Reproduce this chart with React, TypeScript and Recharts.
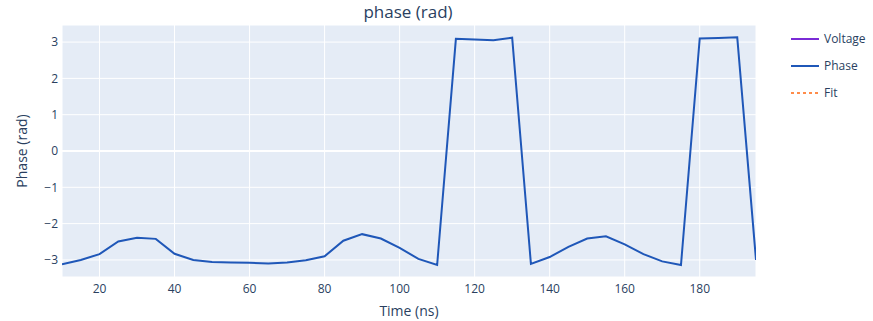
import {
  LineChart,
  Line,
  XAxis,
  YAxis,
  CartesianGrid,
  ReferenceLine
} from "recharts";

const times = [
  10, 15, 20, 25, 30, 35, 40, 45, 50, 55, 60, 65, 70, 75, 80, 85, 90, 95, 100,
  105, 110, 115, 120, 125, 130, 135, 140, 145, 150, 155, 160, 165, 170, 175,
  180, 185, 190, 195
];

const phase = [
  -3.12, -3.0, -2.84, -2.49, -2.39, -2.42, -2.83, -3.0, -3.06, -3.07, -3.08,
  -3.1, -3.07, -3.01, -2.9, -2.47, -2.29, -2.41, -2.67, -2.97, -3.14, 3.09,
  3.07, 3.05, 3.12, -3.11, -2.92, -2.64, -2.41, -2.35, -2.57, -2.84, -3.04,
  -3.14, 3.1, 3.11, 3.13, -3.0
];

const xTicks = [20, 40, 60, 80, 100, 120, 140, 160, 180];
const yTicks = [-3, -2, -1, 0, 1, 2, 3];

const legendItems = [
  { name: "Voltage", color: "#7a2bd6", dash: "" },
  { name: "Phase", color: "#1f57b8", dash: "" },
  { name: "Fit", color: "#ff8c4a", dash: "3 3" }
];

const data = times.map((t, i) => ({ t, phase: phase[i] }));

const font = "'Open Sans', sans-serif";
const textColor = "#2a3f5f";

const fmt = (v: number) => String(v).replace("-", "\u2212");

function LegendBox() {
  return (
    <div
      style={{
        position: "absolute",
        left: 790,
        top: 25,
        fontFamily: font,
        fontSize: 12,
        color: textColor
      }}
    >
      {legendItems.map((it) => (
        <div
          key={it.name}
          style={{ display: "flex", alignItems: "center", height: 27 }}
        >
          <svg width={34} height={10}>
            <line
              x1={1}
              x2={29}
              y1={5}
              y2={5}
              stroke={it.color}
              strokeWidth={2}
              strokeDasharray={it.dash}
            />
          </svg>
          <span>{it.name}</span>
        </div>
      ))}
    </div>
  );
}

export default function App() {
  return (
    <div
      style={{
        position: "absolute",
        left: 0,
        top: 0,
        width: 873,
        height: 321,
        background: "#fff"
      }}
    >
      <div
        style={{
          position: "absolute",
          left: 0,
          width: 816,
          top: 0,
          textAlign: "center",
          fontFamily: font,
          fontSize: 17,
          color: textColor
        }}
      >
        phase (rad)
      </div>
      <LineChart
        width={873}
        height={321}
        data={data}
        margin={{ top: 25, right: 117, bottom: 0, left: 0 }}
      >
        <CartesianGrid fill="#e5ecf6" stroke="#ffffff" strokeWidth={1} />
        <XAxis
          dataKey="t"
          type="number"
          domain={[10, 195]}
          ticks={xTicks}
          allowDataOverflow
          height={44}
          axisLine={false}
          tickLine={false}
          tickSize={5}
          tick={{ fontFamily: font, fontSize: 12, fill: textColor }}
          label={{
            value: "Time (ns)",
            position: "insideBottom",
            offset: 5,
            style: { fontFamily: font, fontSize: 14, fill: textColor }
          }}
        />
        <YAxis
          type="number"
          domain={[-3.47, 3.47]}
          ticks={yTicks}
          allowDataOverflow
          width={62}
          axisLine={false}
          tickLine={false}
          tickSize={2}
          tickFormatter={fmt}
          tick={{ fontFamily: font, fontSize: 12, fill: textColor }}
          label={{
            value: "Phase (rad)",
            angle: -90,
            position: "center",
            dx: -9,
            style: { fontFamily: font, fontSize: 14, fill: textColor }
          }}
        />
        <ReferenceLine y={0} stroke="#ffffff" strokeWidth={2} />
        <Line
          type="linear"
          dataKey="phase"
          name="Phase"
          stroke="#1f57b8"
          strokeWidth={2}
          dot={false}
          isAnimationActive={false}
        />
      </LineChart>
      <LegendBox />
    </div>
  );
}
